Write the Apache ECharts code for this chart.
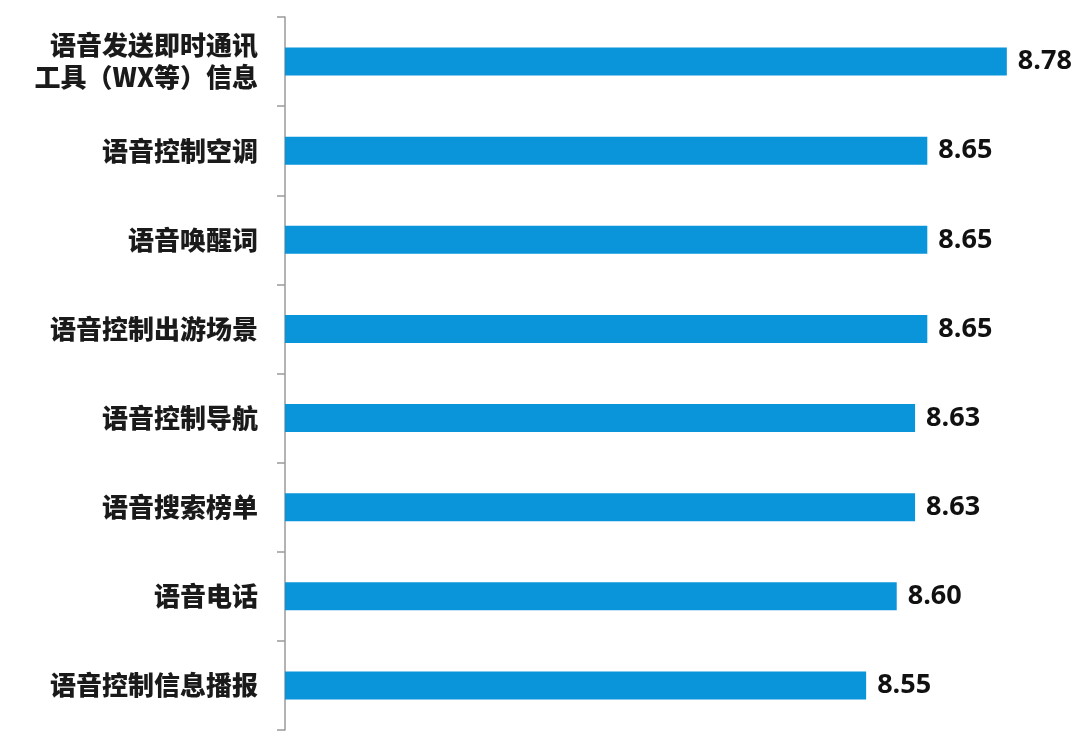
<!DOCTYPE html>
<html>
<head>
<meta charset="utf-8">
<script src="https://cdn.jsdelivr.net/npm/echarts@6/dist/echarts.min.js"></script>
<style>
  html, body { margin: 0; padding: 0; background: #fff; }
  #chart { width: 1080px; height: 751px; }
</style>
</head>
<body>
<div id="chart"></div>
<script>
const categories = [
  '语音发送即时通讯\n工具（WX等）信息',
  '语音控制空调',
  '语音唤醒词',
  '语音控制出游场景',
  '语音控制导航',
  '语音搜索榜单',
  '语音电话',
  '语音控制信息播报'
]
const scores = [8.78, 8.65, 8.65, 8.65, 8.63, 8.63, 8.60, 8.55]

const myChart = echarts.init(document.getElementById('chart'))
myChart.setOption({
  animation: false,
  grid: { left: 285, right: 12, top: 17, bottom: 21 },
  xAxis: {
    type: 'value',
    min: 7.6,
    max: 8.88,
    show: false
  },
  yAxis: {
    type: 'category',
    inverse: true,
    data: categories,
    axisLine: { show: true, lineStyle: { color: '#9a9a9a', width: 1.5 } },
    axisTick: { show: true, length: 8, lineStyle: { color: '#9a9a9a', width: 1.5 } },
    axisLabel: {
      margin: 27,
      color: '#1a1a1a',
      fontSize: 26,
      fontWeight: 900,
      lineHeight: 32,
      fontFamily: 'Noto Sans CJK SC'
    }
  },
  series: [
    {
      type: 'bar',
      data: scores,
      barWidth: 28,
      itemStyle: { color: '#0a94da' },
      label: {
        show: true,
        position: 'right',
        distance: 11,
        color: '#111',
        fontSize: 27,
        fontWeight: 'bold',
        fontFamily: 'Open Sans',
        formatter: p => p.value.toFixed(2)
      }
    }
  ]
})
</script>
</body>
</html>
